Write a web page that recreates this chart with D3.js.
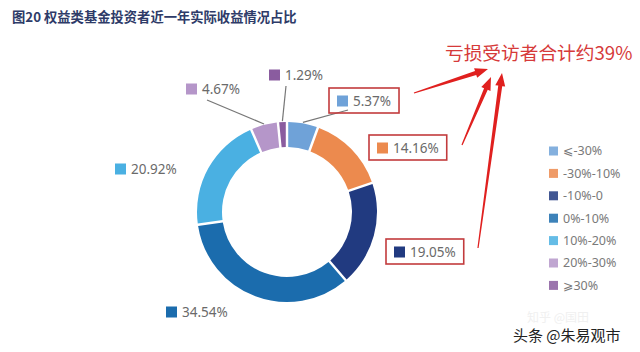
<!DOCTYPE html>
<html><head><meta charset="utf-8">
<script src="https://cdn.jsdelivr.net/npm/d3@7"></script>
<style>html,body{margin:0;padding:0;background:#fff;}svg{display:block;}</style>
</head><body>
<svg id="c" width="640" height="352"></svg>
<script>
const categories = ["⩽-30%", "-30%-10%", "-10%-0", "0%-10%", "10%-20%", "20%-30%", "⩾30%"];
const values = [5.37, 14.16, 19.05, 34.54, 20.92, 4.67, 1.29];
const valueLabels = ["5.37%", "14.16%", "19.05%", "34.54%", "20.92%", "4.67%", "1.29%"];
const colors = ["#6fa2d8", "#ec8a4e", "#213a80", "#1b6cad", "#4ab0e2", "#b596c9", "#8a5c9f"];
const title = "图20 权益类基金投资者近一年实际收益情况占比";
const note = "亏损受访者合计约39%";
const highlighted = [0, 1, 2];

// layout (label anchors: square left x, centre y)
const labelPos = [[337,101],[377,148],[394,252],[166,312],[115,169],[186,89],[269,75]];
const leaders = {0:[348,110], 5:[207,100], 6:[286,86]};

const svg = d3.select("#c");
const cx = 287, cy = 212, R = 90, r = 65;

svg.append("text").attr("x", 12).attr("y", 22)
  .attr("font-family", "Noto Sans CJK SC").attr("font-weight", "bold")
  .attr("font-size", 13.3).attr("fill", "#2e3b68").text(title);

const pie = d3.pie().sort(null).value(d => d).padAngle(0.022);
const arcs = pie(values);
const arc = d3.arc().innerRadius(r).outerRadius(R);
const g = svg.append("g").attr("transform", `translate(${cx},${cy})`);
g.selectAll("path").data(arcs).join("path")
  .attr("d", arc).attr("fill", (d, i) => colors[i]);

// leader lines
Object.entries(leaders).forEach(([k, end]) => {
  const a = arcs[+k];
  const mid = (a.startAngle + a.endAngle) / 2;
  const x0 = cx + Math.sin(mid) * (R + 1), y0 = cy - Math.cos(mid) * (R + 1);
  svg.append("line").attr("x1", x0).attr("y1", y0).attr("x2", end[0]).attr("y2", end[1])
    .attr("stroke", "#777").attr("stroke-width", 1.2);
});

// value labels
values.forEach((v, i) => {
  const [x, y] = labelPos[i];
  const t = svg.append("text").attr("x", x + 16).attr("y", y).attr("dy", "0.36em")
    .attr("font-family", "Noto Sans").attr("font-size", 13.5).attr("fill", "#6a6a6a")
    .text(valueLabels[i]);
  svg.append("rect").attr("x", x).attr("y", y - 5.5).attr("width", 11).attr("height", 11)
    .attr("fill", colors[i]);
  if (highlighted.includes(i)) {
    const w = t.node().getComputedTextLength();
    svg.append("rect").attr("x", x - 8).attr("y", y - 13).attr("width", w + 32).attr("height", 25)
      .attr("fill", "none").attr("stroke", "#c23b3d").attr("stroke-width", 1.6);
  }
});

// legend
const lg = svg.append("g");
categories.forEach((c, i) => {
  const y = 151 + i * 22.4;
  lg.append("rect").attr("x", 549).attr("y", y - 4.5).attr("width", 9).attr("height", 9)
    .attr("fill", colors[i]).attr("opacity", 0.85);
  lg.append("text").attr("x", 563).attr("y", y).attr("dy", "0.35em")
    .attr("font-family", "Noto Sans, DejaVu Sans").attr("font-size", 12.5).attr("fill", "#7a7a7a").text(c);
});

// annotation
svg.append("text").attr("x", 445).attr("y", 60)
  .attr("font-family", "Noto Sans CJK SC").attr("font-size", 18.7).attr("fill", "#d63a3a").text(note);

function arrow(x1, y1, x2, y2) {
  const dx = x2 - x1, dy = y2 - y1, L = Math.hypot(dx, dy);
  const ux = dx / L, uy = dy / L, px = -uy, py = ux;
  const hl = 13, hw = 5;
  const bx = x2 - ux * hl, by = y2 - uy * hl;
  const pts = [
    [x1 + px * 0.6, y1 + py * 0.6],
    [bx + px * 2, by + py * 2],
    [bx + px * hw, by + py * hw],
    [x2, y2],
    [bx - px * hw, by - py * hw],
    [bx - px * 2, by - py * 2],
    [x1 - px * 0.6, y1 - py * 0.6]
  ];
  svg.append("path").attr("d", d3.line()(pts) + "Z").attr("fill", "#e0201f");
}
arrow(414, 93, 488, 69);
arrow(462, 145, 491, 77);
arrow(478, 248, 502, 73);

// watermarks
svg.append("text").attr("x", 527).attr("y", 322).attr("font-family", "Noto Sans CJK SC")
  .attr("font-size", 12).attr("fill", "#f0f0f0").text("知乎 @国田");
svg.append("text").attr("x", 513).attr("y", 341).attr("font-family", "Noto Sans CJK SC")
  .attr("font-size", 15).attr("fill", "#222").attr("stroke", "#fff").attr("stroke-width", 2.5)
  .attr("paint-order", "stroke").text("头条 @朱易观市");
</script>
</body></html>
